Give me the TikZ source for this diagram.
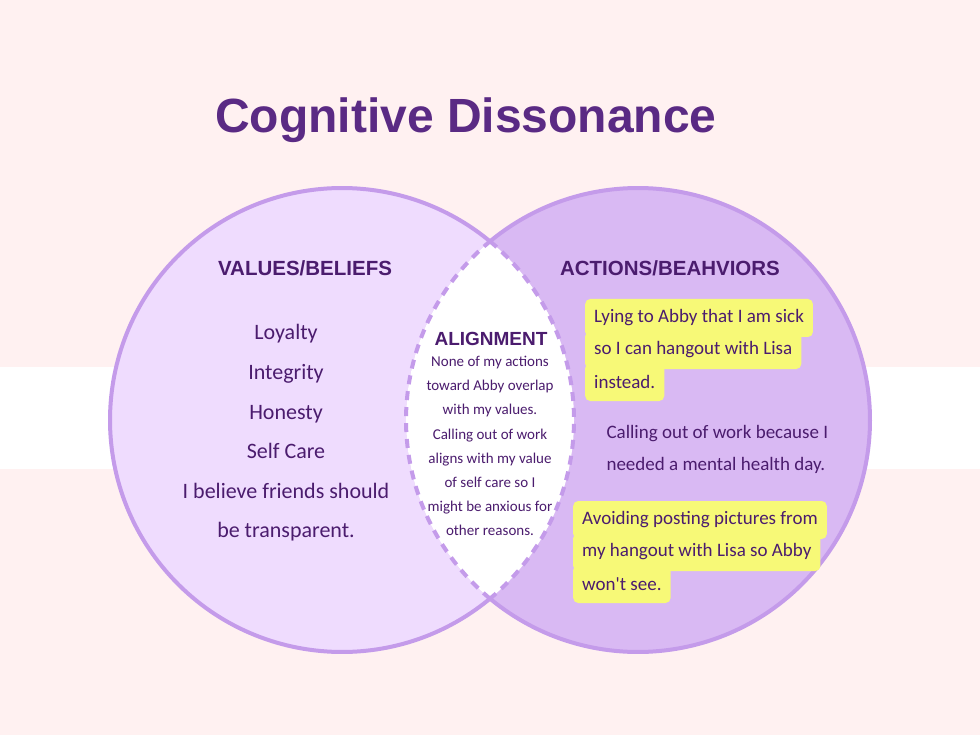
\documentclass[tikz,border=0pt]{standalone}
\usepackage{fontspec}
\setmainfont{Liberation Sans}
\newfontfamily\handfont{Carlito}
\usetikzlibrary{positioning}
\usetikzlibrary{calc}

\definecolor{bgpink}{HTML}{FFF1F1}
\definecolor{leftfill}{HTML}{EFDCFE}
\definecolor{rightfill}{HTML}{D9B9F3}
\definecolor{ringline}{HTML}{C49BEA}
\definecolor{inkpurple}{HTML}{4B1C6E}
\definecolor{titlepurple}{HTML}{5A2A84}
\definecolor{notehl}{HTML}{F7F977}

\tikzset{
  ring/.style={draw=ringline, line width=4pt},
  lensline/.style={draw=ringline, line width=4pt, dash pattern=on 9pt off 7pt},
  headtext/.style={text=inkpurple, font=\bfseries\fontsize{20.5}{20.5}\selectfont, anchor=base},
  handtext/.style={text=inkpurple, font=\handfont\fontsize{19}{32}\selectfont},
  hlline/.style={fill=notehl, rounded corners=5pt, inner xsep=9pt, inner ysep=0pt,
    minimum height=38pt, anchor=west, text=inkpurple,
    font=\handfont\fontsize{19}{19}\selectfont}
}

\begin{document}
\begin{tikzpicture}[x=1pt,y=-1pt]
    % Draw background
    \useasboundingbox (0,0) rectangle (980,735);
    \fill[bgpink] (0,0) rectangle (980,735);
    \fill[white] (0,367) rectangle (980,469);

    \coordinate (lc) at (342,420);
    \coordinate (rc) at (638,420);

    % Draw circles
    \fill[leftfill] (lc) circle (232);
    \fill[rightfill] (rc) circle (232);
    \begin{scope}
      \clip (lc) circle (232);
      \fill[white] (rc) circle (232);
    \end{scope}
    \draw[ring] ($(lc)+(50.4:232)$) arc (50.4:309.6:232);
    \draw[ring] ($(rc)+(129.6:232)$) arc (129.6:-129.6:232);
    \draw[lensline] ($(lc)+(-50.4:232)$) arc (-50.4:50.4:232);
    \draw[lensline] ($(rc)+(129.6:232)$) arc (129.6:230.4:232);

    % Title
    \node[text=titlepurple, font=\bfseries\fontsize{48}{48}\selectfont, anchor=base]
        (title) at (466,133) {Cognitive Dissonance};

    % Headings
    \node[headtext] (valhead) at (305,276) {VALUES/BELIEFS};
    \node[headtext] (acthead) at (670,276) {ACTIONS/BEAHVIORS};
    \node[headtext, font=\bfseries\fontsize{19}{19}\selectfont] (alignhead) at (491,345) {ALIGNMENT};

    % Values
    \node[handtext, font=\handfont\fontsize{22}{39.6}\selectfont, align=center]
        (values) at (286,433) {Loyalty\\Integrity\\Honesty\\Self Care\\I believe friends should\\be transparent.};

    % Alignment
    \node[handtext, font=\handfont\fontsize{15}{24.2}\selectfont, align=center]
        (aligntext) at (490,446) {None of my actions\\toward Abby overlap\\with my values.\\Calling out of work\\aligns with my value\\of self care so I\\might be anxious for\\other reasons.};

    % Actions
    \node[hlline] (lie1) at (585,318) {Lying to Abby that I am sick};
    \node[hlline] (lie2) at (585,350) {so I can hangout with Lisa};
    \node[hlline] (lie3) at (585,382) {instead.};

    \node[handtext, align=left, anchor=west] (calling) at (603,449) {Calling out of work because I\\needed a mental health day.};

    \node[hlline] (avoid1) at (573,520) {Avoiding posting pictures from};
    \node[hlline] (avoid2) at (573,552) {my hangout with Lisa so Abby};
    \node[hlline] (avoid3) at (573,584) {won't see.};

\end{tikzpicture}
\end{document}
